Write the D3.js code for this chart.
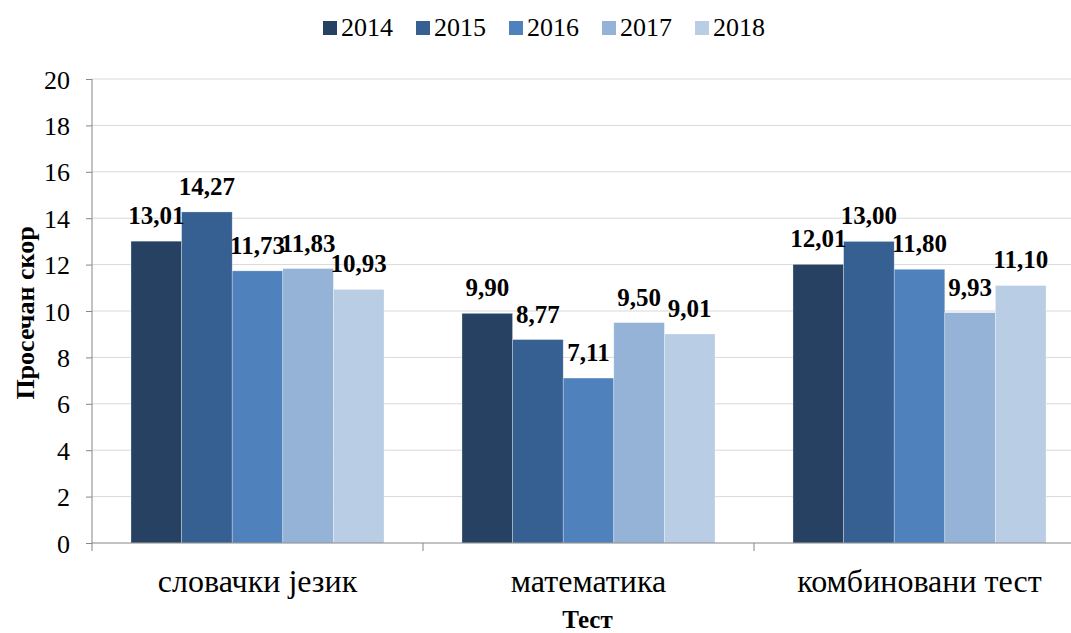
<!DOCTYPE html>
<html>
<head>
<meta charset="utf-8">
<script src="https://cdn.jsdelivr.net/npm/d3@7"></script>
<style>
  body { margin: 0; background: #fff; }
</style>
</head>
<body>
<div id="chart"></div>
<script>
var categories = ["словачки језик", "математика", "комбиновани тест"];
var years = ["2014", "2015", "2016", "2017", "2018"];
var values2014 = [13.01, 9.90, 12.01];
var values2015 = [14.27, 8.77, 13.00];
var values2016 = [11.73, 7.11, 11.80];
var values2017 = [11.83, 9.50, 9.93];
var values2018 = [10.93, 9.01, 11.10];
var yTicks = [0, 2, 4, 6, 8, 10, 12, 14, 16, 18, 20];

var series = [values2014, values2015, values2016, values2017, values2018];
var colors = ["#264161", "#376092", "#4f81bd", "#95b3d7", "#b9cde5"];
var serif = "'Liberation Serif', 'Times New Roman', 'DejaVu Serif', serif";

var margin = {top: 79, right: -14, bottom: 90, left: 92},
    width = 1071 - margin.left - margin.right,
    height = 633 - margin.top - margin.bottom;

var root = d3.select("#chart")
  .append("svg")
  .attr("width", 1071)
  .attr("height", 633)
  .attr("font-family", serif);

var svg = root.append("g")
  .attr("transform", "translate(" + margin.left + "," + margin.top + ")");

var x0 = d3.scaleBand().domain(categories).range([0, width]).padding(0);
var x1 = d3.scaleBand().domain(years).range([0, x0.bandwidth()]).paddingInner(0).paddingOuter(0.77);
var y = d3.scaleLinear().domain([0, 20]).range([height, 0]);

// gridlines
svg.append("g")
  .selectAll("line")
  .data(yTicks.slice(1))
  .enter().append("line")
  .attr("x1", 0)
  .attr("x2", width)
  .attr("y1", function(d) { return y(d); })
  .attr("y2", function(d) { return y(d); })
  .attr("stroke", "#d9d9d9")
  .attr("stroke-width", 1);

var rows = [];
categories.forEach(function(c, i) {
  years.forEach(function(yr, j) {
    rows.push({cat: c, year: yr, value: series[j][i], color: colors[j]});
  });
});

svg.selectAll(".bar")
  .data(rows)
  .enter().append("rect")
  .attr("class", "bar")
  .attr("x", function(d) { return x0(d.cat) + x1(d.year); })
  .attr("y", function(d) { return y(d.value); })
  .attr("width", x1.bandwidth())
  .attr("height", function(d) { return height - y(d.value); })
  .attr("fill", function(d) { return d.color; })
  .attr("stroke", "#ffffff")
  .attr("stroke-opacity", 0.5)
  .attr("stroke-width", 0.6);

svg.selectAll(".lbl")
  .data(rows)
  .enter().append("text")
  .attr("class", "lbl")
  .attr("x", function(d) { return x0(d.cat) + x1(d.year) + x1.bandwidth() / 2; })
  .attr("y", function(d) { return y(d.value) - 17; })
  .attr("text-anchor", "middle")
  .attr("font-family", serif)
  .style("font-size", "25px")
  .style("font-weight", "bold")
  .text(function(d) { return d.value.toFixed(2).replace(".", ","); });

// y axis
var yAxis = d3.axisLeft(y).tickValues(yTicks).tickSize(6).tickPadding(16);
var yg = svg.append("g").attr("class", "y axis").call(yAxis);
yg.attr("font-family", serif);
yg.select(".domain").attr("stroke", "#868686").attr("d", "M0," + height + "V0");
yg.selectAll(".tick line").attr("stroke", "#868686");
yg.selectAll(".tick text").style("font-size", "26px").attr("fill", "#000").attr("dy", "0.35em");

// x axis
var xg = svg.append("g")
  .attr("transform", "translate(0," + height + ")");
xg.append("line")
  .attr("x1", 0).attr("x2", width)
  .attr("stroke", "#868686");
var bounds = [0].concat(categories.map(function(c) { return x0(c) + x0.bandwidth(); }));
xg.selectAll(".xt")
  .data(bounds)
  .enter().append("line")
  .attr("x1", function(d) { return d; })
  .attr("x2", function(d) { return d; })
  .attr("y1", 0).attr("y2", 8)
  .attr("stroke", "#868686");
xg.selectAll(".xl")
  .data(categories)
  .enter().append("text")
  .attr("x", function(d) { return x0(d) + x0.bandwidth() / 2; })
  .attr("y", 49)
  .attr("text-anchor", "middle")
  .attr("font-family", serif)
  .style("font-size", "32px")
  .text(function(d) { return d; });

svg.append("text")
  .attr("x", width / 2 - 1)
  .attr("y", height + 85)
  .attr("text-anchor", "middle")
  .attr("font-family", serif)
  .style("font-size", "25px")
  .style("font-weight", "bold")
  .text("Тест");

svg.append("text")
  .attr("transform", "rotate(-90)")
  .attr("x", -(height / 2) - 2)
  .attr("y", -58)
  .attr("text-anchor", "middle")
  .attr("font-family", serif)
  .style("font-size", "26px")
  .style("font-weight", "bold")
  .text("Просечан скор");

// legend
var legend = root.append("g")
  .attr("transform", "translate(323,18)");
var item = legend.selectAll(".leg")
  .data(years)
  .enter().append("g")
  .attr("transform", function(d, i) { return "translate(" + (i * 93) + ",0)"; });
item.append("rect")
  .attr("width", 14).attr("height", 14)
  .attr("y", 3)
  .attr("fill", function(d, i) { return colors[i]; });
item.append("text")
  .attr("x", 18)
  .attr("y", 18)
  .attr("font-family", serif)
  .style("font-size", "26px")
  .text(function(d) { return d; });
</script>
</body>
</html>
